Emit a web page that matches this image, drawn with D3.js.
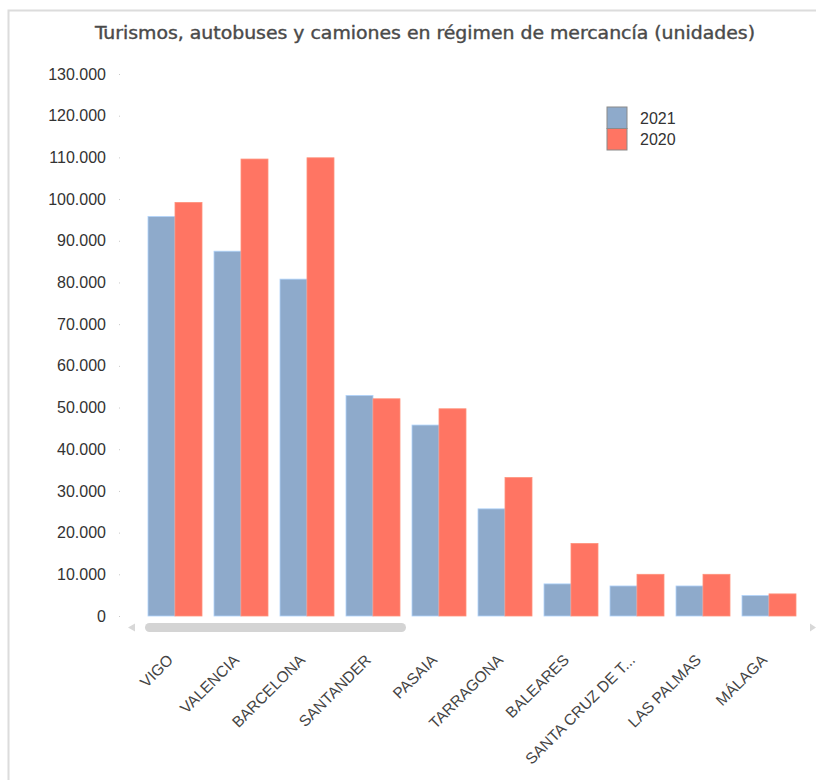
<!DOCTYPE html>
<html>
<head>
<meta charset="utf-8">
<script src="https://cdn.jsdelivr.net/npm/d3@7"></script>
<style>
  body { margin: 0; background: #fff; }
  svg { display: block; }
</style>
</head>
<body>
<div id="chart"></div>
<script>
// chart data
const title = 'Turismos, autobuses y camiones en régimen de mercancía (unidades)'
const ports = ['VIGO', 'VALENCIA', 'BARCELONA', 'SANTANDER', 'PASAIA', 'TARRAGONA', 'BALEARES', 'SANTA CRUZ DE T...', 'LAS PALMAS', 'MÁLAGA']
const years = ['2021', '2020']
const values2021 = [95800, 87500, 80800, 52900, 45800, 25700, 7700, 7200, 7200, 4900]
const values2020 = [99200, 109600, 109900, 52100, 49700, 33200, 17400, 10000, 10000, 5300]
const yTicks = [0, 10000, 20000, 30000, 40000, 50000, 60000, 70000, 80000, 90000, 100000, 110000, 120000, 130000]

const colors = { '2021': '#8eaacb', '2020': '#ff7563' }

const esES = d3.formatLocale({ decimal: ',', thousands: '.', grouping: [3], currency: ['', ' €'] })
const fmt = esES.format(',d')

const [width, height] = [816, 780]

const svg = d3.select('#chart').append('svg')
    .attr('width', width)
    .attr('height', height)

// light frame round the object
svg.append('rect')
    .attr('x', 8.5).attr('y', 10.5)
    .attr('width', 900).attr('height', 900)
    .attr('fill', 'none')
    .attr('stroke', '#dcdcdc')
    .attr('stroke-width', 2)

svg.append('text')
    .attr('x', 425)
    .attr('y', 39)
    .attr('text-anchor', 'middle')
    .attr('font-family', 'DejaVu Sans Condensed, DejaVu Sans, sans-serif')
    .attr('font-size', 17)
    .attr('fill', '#4a4a4a')
    .attr('stroke', '#4a4a4a')
    .attr('stroke-width', 0.35)
    .attr('textLength', 660)
    .attr('lengthAdjust', 'spacingAndGlyphs')
    .text(title)

const y = d3.scaleLinear()
    .domain([0, 130000])
    .range([616, 74])

const x = d3.scaleBand()
    .domain(ports)
    .range([142, 802])
    .paddingInner(12 / 66)
    .paddingOuter(6 / 66)

const xInner = d3.scaleBand()
    .domain(years)
    .range([0, x.bandwidth()])

// y axis: labels and little dot ticks
const yAxis = svg.append('g')
    .attr('transform', 'translate(120,0)')
    .call(d3.axisLeft(y).tickValues(yTicks).tickFormat(d => fmt(d)).tickSize(1).tickPadding(13))

yAxis.select('.domain').remove()
yAxis.selectAll('line').attr('stroke', '#c8c8c8')
yAxis.selectAll('text')
    .attr('font-family', 'Liberation Sans, Arial, sans-serif')
    .attr('font-size', 16)
    .attr('fill', '#333')

// bars
const rows = ports.map((p, i) => ({ port: p, '2021': values2021[i], '2020': values2020[i] }))

svg.append('g')
    .selectAll('g')
    .data(rows)
    .join('g')
    .attr('transform', d => `translate(${x(d.port)},0)`)
    .selectAll('rect')
    .data(d => years.map(k => ({ key: k, value: d[k] })))
    .join('rect')
    .attr('x', d => xInner(d.key))
    .attr('y', d => y(d.value))
    .attr('width', xInner.bandwidth())
    .attr('height', d => y(0) - y(d.value))
    .attr('fill', d => colors[d.key])
    .attr('stroke', d => d3.color(colors[d.key]).brighter(0.6))
    .attr('stroke-width', 0.8)

// scroll bar under the plot
svg.append('rect')
    .attr('x', 145).attr('y', 623)
    .attr('width', 261).attr('height', 9)
    .attr('rx', 4.5)
    .attr('fill', '#d4d4d4')
svg.append('path')
    .attr('d', 'M128,627.5 L135,623.5 L135,631.5 Z')
    .attr('fill', '#d8d8d8')
svg.append('path')
    .attr('d', 'M816,627.5 L810,623.5 L810,631.5 Z')
    .attr('fill', '#d8d8d8')

// x labels, rotated
svg.append('g')
    .selectAll('text')
    .data(ports)
    .join('text')
    .attr('transform', d => `translate(${x(d) + x.bandwidth() / 2 - 1},661) rotate(-45)`)
    .attr('text-anchor', 'end')
    .attr('font-family', 'Liberation Sans, Arial, sans-serif')
    .attr('font-size', 15.5)
    .attr('fill', '#444')
    .text(d => d)

// legend
const legend = svg.append('g')
    .selectAll('g')
    .data(years)
    .join('g')
    .attr('transform', (d, i) => `translate(607,${107 + i * 21.5})`)

legend.append('rect')
    .attr('width', 20)
    .attr('height', 21.5)
    .attr('fill', d => colors[d])
    .attr('stroke', '#8a8a8a')
    .attr('stroke-width', 1)

legend.append('text')
    .attr('x', 33)
    .attr('y', 16.5)
    .attr('font-family', 'Liberation Sans, Arial, sans-serif')
    .attr('font-size', 16)
    .attr('fill', '#333')
    .text(d => d)
</script>
</body>
</html>
